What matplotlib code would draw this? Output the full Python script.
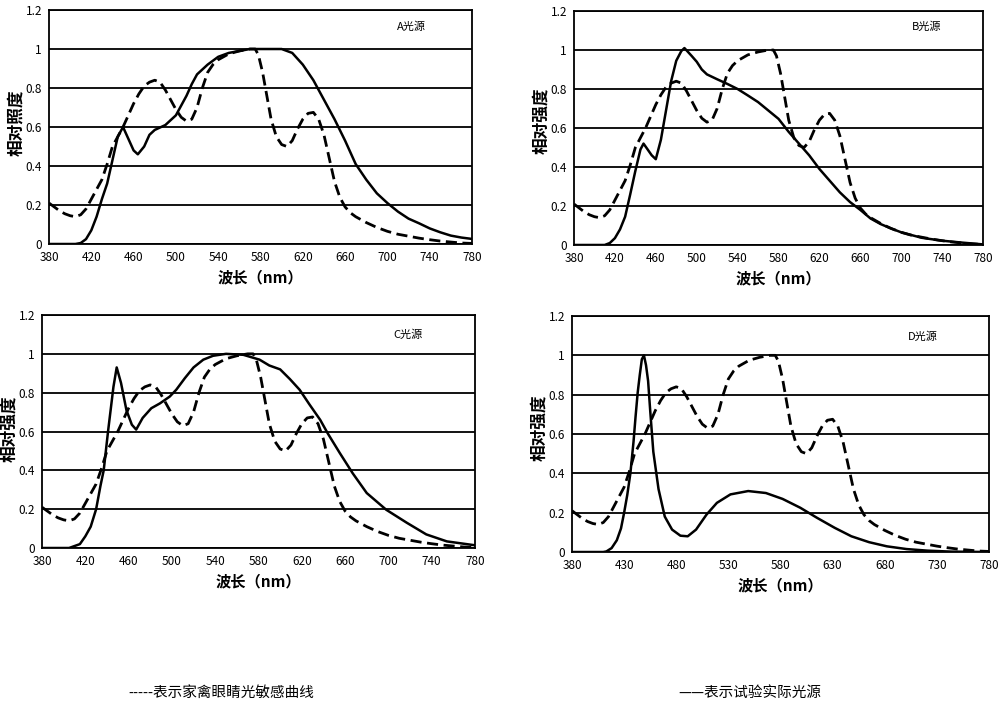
import matplotlib
matplotlib.use("Agg")
import matplotlib.pyplot as plt

plt.rcParams['font.family'] = ['Noto Sans CJK SC', 'DejaVu Sans']

# poultry eye sensitivity (dashed), same in every panel
eye_nm = [380, 385, 390, 395, 400, 405, 410, 415, 420, 425, 430, 435, 440, 445, 450, 455, 460, 465,
          470, 475, 480, 485, 490, 495, 500, 505, 510, 515, 520, 525, 530, 535, 540,
          550, 560, 570, 575, 578, 582, 586, 590, 595,
          600, 605, 610, 615, 620, 625, 630, 635, 640, 645, 650, 655, 660, 665, 670,
          680, 690, 700, 710, 720, 730, 740, 750, 760, 770, 780]
eye = [0.21, 0.19, 0.17, 0.155, 0.145, 0.14, 0.15, 0.18, 0.23, 0.28, 0.33, 0.41, 0.5, 0.55, 0.6, 0.66,
       0.72, 0.77, 0.81, 0.83, 0.84, 0.83, 0.79, 0.74, 0.69, 0.65, 0.63, 0.64, 0.7, 0.8, 0.88, 0.92, 0.945,
       0.975, 0.99, 1.0, 1.0, 0.97, 0.88, 0.76, 0.64, 0.55,
       0.51, 0.5, 0.53, 0.59, 0.64, 0.67, 0.675, 0.64, 0.56, 0.44, 0.32, 0.24, 0.19, 0.16, 0.14,
       0.11, 0.085, 0.065, 0.05, 0.04, 0.03, 0.022, 0.015, 0.01, 0.005, 0.003]

# light sources (solid)
a_nm = [380, 405, 410, 415, 420, 425, 430, 435, 440, 445, 450, 455, 460, 464, 470, 475, 480, 490, 500, 510,
        515, 520, 530, 540, 550, 560, 570, 580, 590, 600, 610, 620, 630, 640, 650, 660, 670, 680, 690, 700,
        710, 720, 730, 740, 750, 760, 770, 780]
a_val = [0, 0, 0.005, 0.025, 0.07, 0.14, 0.23, 0.31, 0.43, 0.55, 0.6, 0.54, 0.48, 0.46, 0.5, 0.56, 0.585,
         0.61, 0.66, 0.76, 0.82, 0.87, 0.92, 0.96, 0.98, 0.99, 1.0, 1.0, 1.0, 1.0, 0.98, 0.92, 0.84, 0.74,
         0.64, 0.53, 0.41, 0.33, 0.26, 0.21, 0.166, 0.13, 0.106, 0.08, 0.06, 0.043, 0.033, 0.026]

b_nm = [380, 410, 415, 420, 425, 430, 435, 440, 445, 448, 452, 456, 460, 465, 470, 475, 480, 485, 488, 495,
        500, 505, 510, 520, 530, 540, 550, 560, 570, 580, 590, 600, 610, 620, 630, 640, 650, 660, 670, 680,
        690, 700, 720, 740, 760, 780]
b_val = [0, 0, 0.01, 0.035, 0.08, 0.145, 0.26, 0.38, 0.49, 0.52, 0.49, 0.46, 0.44, 0.54, 0.69, 0.84, 0.945,
         0.995, 1.01, 0.97, 0.94, 0.9, 0.875, 0.85, 0.826, 0.8, 0.767, 0.733, 0.69, 0.647, 0.58, 0.52, 0.46,
         0.39, 0.33, 0.27, 0.22, 0.18, 0.136, 0.107, 0.085, 0.065, 0.037, 0.022, 0.012, 0.003]

c_nm = [380, 405, 410, 415, 420, 425, 430, 434, 437, 441, 446, 449, 453, 458, 463, 467, 473, 481, 489, 498,
        504, 512, 520, 529, 538, 550, 566, 581, 590, 600, 609, 618, 627, 637, 644, 655, 667, 680, 698, 717,
        735, 754, 780]
c_val = [0, 0, 0.01, 0.02, 0.06, 0.11, 0.2, 0.32, 0.4, 0.6, 0.83, 0.93, 0.85, 0.71, 0.635, 0.61, 0.67, 0.72,
         0.745, 0.78, 0.815, 0.875, 0.93, 0.97, 0.99, 1.0, 0.995, 0.97, 0.94, 0.92, 0.87, 0.815, 0.74, 0.66,
         0.59, 0.49, 0.385, 0.283, 0.197, 0.13, 0.07, 0.034, 0.014]

d_nm = [380, 410, 413, 418, 423, 427, 430, 433, 436, 439, 441, 443, 445, 447, 449, 451, 453, 455, 458, 463,
        469, 476, 484, 491, 499, 509, 519, 532, 549, 566, 582, 599, 615, 632, 648, 665, 682, 701, 721, 744, 780]
d_val = [0, 0, 0.003, 0.02, 0.06, 0.12, 0.2, 0.29, 0.4, 0.56, 0.69, 0.81, 0.9, 0.98, 1.0, 0.95, 0.87, 0.72,
         0.51, 0.32, 0.18, 0.114, 0.083, 0.08, 0.114, 0.19, 0.25, 0.293, 0.31, 0.3, 0.27, 0.225, 0.174, 0.123,
         0.08, 0.05, 0.029, 0.015, 0.007, 0.002, 0]

ticks_40 = list(range(380, 781, 40))
ticks_50 = list(range(380, 781, 50))
y_ticks = [0, 0.2, 0.4, 0.6, 0.8, 1.0, 1.2]
y_labels = ['0', '0.2', '0.4', '0.6', '0.8', '1', '1.2']

panels = [
    # rect, x, y, tag, ylabel, xticks, ylabel pos, tag pos
    ([0.049, 0.6544, 0.423, 0.3314], a_nm, a_val, 'A光源', '相对照度', ticks_40, (-0.057, 0.52), (0.858, 0.927)),
    ([0.574, 0.653, 0.409, 0.3314], b_nm, b_val, 'B光源', '相对强度', ticks_40, (-0.058, 0.53), (0.863, 0.932)),
    ([0.042, 0.2238, 0.433, 0.330], c_nm, c_val, 'C光源', '相对强度', ticks_40, (-0.055, 0.51), (0.845, 0.914)),
    ([0.572, 0.2181, 0.417, 0.3343], d_nm, d_val, 'D光源', '相对强度', ticks_50, (-0.058, 0.525), (0.842, 0.911)),
]

fig = plt.figure(figsize=(10, 7.06), dpi=100)

for rect, xs, ys, tag, ylab, xt, ypos, tpos in panels:
    ax = fig.add_axes(rect)
    ax.plot(eye_nm, eye, color='black', lw=2.0, ls=(0, (4, 2)))
    ax.plot(xs, ys, color='black', lw=1.8)
    ax.set_xlim(380, 780)
    ax.set_ylim(0, 1.2)
    ax.set_xticks(xt)
    ax.set_yticks(y_ticks)
    ax.set_yticklabels(y_labels)
    ax.yaxis.grid(True, color='black', lw=1.3)
    ax.set_axisbelow(True)
    ax.tick_params(length=0, labelsize=8.5, pad=5)
    for s in ax.spines.values():
        s.set_color('black')
        s.set_linewidth(1.3)
    ax.set_ylabel(ylab, fontsize=12, fontweight='bold')
    ax.yaxis.set_label_coords(ypos[0], ypos[1])
    ax.set_xlabel('波长（nm）', fontsize=11, fontweight='bold', labelpad=4)
    ax.text(tpos[0], tpos[1], tag, transform=ax.transAxes, fontsize=8, ha='center', va='center')

fig.text(0.128, 1 - 693 / 706, '-----表示家禽眼睛光敏感曲线', fontsize=10.5, va='center')
fig.text(0.678, 1 - 693 / 706, '——表示试验实际光源', fontsize=10.5, va='center')

fig.savefig('out.png', dpi=100)
